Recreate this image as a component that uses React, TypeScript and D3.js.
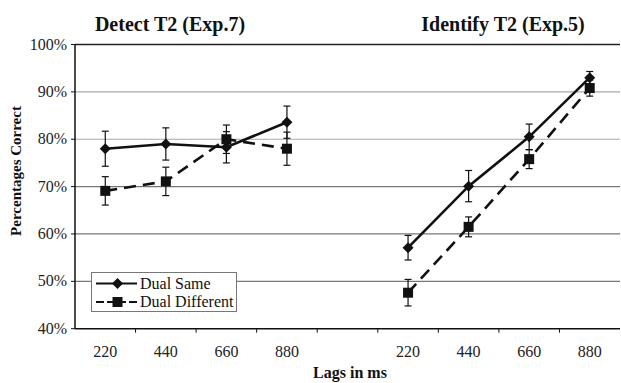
import React from "react";
import * as d3 from "d3";

const lags = ["220", "440", "660", "880"];
const panelTitles = ["Detect T2 (Exp.7)", "Identify T2 (Exp.5)"];
const yTicks = [40, 50, 60, 70, 80, 90, 100];

const detectSame = [78.0, 79.0, 78.3, 83.6];
const detectSameErr = [3.7, 3.4, 3.3, 3.4];
const detectDiff = [69.1, 71.1, 80.0, 78.0];
const detectDiffErr = [3.0, 3.0, 3.0, 3.5];
const identSame = [57.1, 70.1, 80.5, 93.0];
const identSameErr = [2.6, 3.3, 2.7, 1.3];
const identDiff = [47.6, 61.5, 75.8, 90.8];
const identDiffErr = [2.8, 2.1, 2.0, 1.7];

const W = 621;
const H = 383;
const FONT = '"Liberation Serif", "Times New Roman", serif';

const slots = [...lags.map((l) => "a" + l), "gap", ...lags.map((l) => "b" + l)];
const x = d3.scaleBand<string>().domain(slots).range([75, 620]).padding(0);
const y = d3.scaleLinear().domain([40, 100]).range([328.7, 44.5]);

type Series = { prefix: string; vals: number[]; errs: number[]; kind: "same" | "diff" };
const seriesList: Series[] = [
  { prefix: "a", vals: detectSame, errs: detectSameErr, kind: "same" },
  { prefix: "a", vals: detectDiff, errs: detectDiffErr, kind: "diff" },
  { prefix: "b", vals: identSame, errs: identSameErr, kind: "same" },
  { prefix: "b", vals: identDiff, errs: identDiffErr, kind: "diff" },
];

const cx = (k: string) => (x(k) as number) + x.bandwidth() / 2;

const ts = { fontFamily: FONT };

function Marker({ kind, px, py }: { kind: string; px: number; py: number }) {
  if (kind === "same") {
    const r = 5.5;
    return (
      <path
        d={`M${px},${py - r}L${px + r},${py}L${px},${py + r}L${px - r},${py}Z`}
        fill="#111"
      />
    );
  }
  const s = 10;
  return <rect x={px - s / 2} y={py - s / 2} width={s} height={s} fill="#111" />;
}

export default function App() {
  const line = d3
    .line<[number, number]>()
    .x((d) => d[0])
    .y((d) => d[1]);

  const gridColor = (v: number) => (v >= 80 ? "#a8a8a8" : "#777");

  return (
    <svg
      width={W}
      height={H}
      style={{ position: "absolute", left: 0, top: 0, background: "#fff" }}
    >
      {yTicks
        .filter((v) => v > 40 && v < 100)
        .map((v) => (
          <line key={v} x1={75} x2={620} y1={y(v)} y2={y(v)} stroke={gridColor(v)} strokeWidth={1.2} />
        ))}
      <line x1={75} x2={620} y1={y(100)} y2={y(100)} stroke="#222" strokeWidth={1.3} />
      <line x1={75} x2={75} y1={y(100)} y2={y(40)} stroke="#111" strokeWidth={1.5} />
      <line x1={75} x2={620} y1={y(40)} y2={y(40)} stroke="#111" strokeWidth={1.5} />
      {yTicks.map((v) => (
        <g key={v}>
          <line x1={71} x2={75} y1={y(v)} y2={y(v)} stroke="#111" strokeWidth={1} />
          <text x={67} y={y(v) + 5} textAnchor="end" fontSize={16} fill="#222" style={ts}>
            {v}%
          </text>
        </g>
      ))}
      {slots.slice(1).map((k) => (
        <line key={k} x1={x(k) as number} x2={x(k) as number} y1={y(40)} y2={y(40) + 4} stroke="#111" strokeWidth={1} />
      ))}
      {slots
        .filter((k) => k !== "gap")
        .map((k) => (
          <text key={k} x={cx(k)} y={357} textAnchor="middle" fontSize={16} fill="#222" style={ts}>
            {k.slice(1)}
          </text>
        ))}
      {seriesList.map((s, si) => {
        const pts: [number, number][] = s.vals.map((v, i) => [cx(s.prefix + lags[i]), y(v)]);
        return (
          <g key={si}>
            {s.vals.map((v, i) => {
              const px = cx(s.prefix + lags[i]);
              return (
                <g key={i} stroke="#111" strokeWidth={1.2}>
                  <line x1={px} x2={px} y1={y(v + s.errs[i])} y2={y(v - s.errs[i])} />
                  <line x1={px - 3.5} x2={px + 3.5} y1={y(v + s.errs[i])} y2={y(v + s.errs[i])} />
                  <line x1={px - 3.5} x2={px + 3.5} y1={y(v - s.errs[i])} y2={y(v - s.errs[i])} />
                </g>
              );
            })}
            <path
              d={line(pts) as string}
              fill="none"
              stroke="#111"
              strokeWidth={2.6}
              strokeDasharray={s.kind === "diff" ? "12,7" : undefined}
            />
            {pts.map((p, i) => (
              <Marker key={i} kind={s.kind} px={p[0]} py={p[1]} />
            ))}
          </g>
        );
      })}
      <text x={170} y={31} textAnchor="middle" fontSize={20} fontWeight="bold" fill="#111" style={ts}>
        {panelTitles[0]}
      </text>
      <text x={503} y={31} textAnchor="middle" fontSize={20} fontWeight="bold" fill="#111" style={ts}>
        {panelTitles[1]}
      </text>
      <text
        transform={`translate(21,${171}) rotate(-90)`}
        textAnchor="middle"
        fontSize={15}
        fontWeight="bold"
        fill="#111"
        style={ts}
      >
        Percentages Correct
      </text>
      <text x={350} y={378} textAnchor="middle" fontSize={16} fontWeight="bold" fill="#111" style={ts}>
        Lags in ms
      </text>
      <g>
        <rect x={91.5} y={272.5} width={145} height={39} fill="#fff" stroke="#777" strokeWidth={1} />
        <line x1={96} x2={137} y1={283.5} y2={283.5} stroke="#111" strokeWidth={2} />
        <Marker kind="same" px={117.5} py={283.5} />
        <text x={140} y={288.5} fontSize={16} fill="#111" style={ts}>Dual Same</text>
        <line x1={96} x2={137} y1={302} y2={302} stroke="#111" strokeWidth={2} strokeDasharray="8,3" />
        <Marker kind="diff" px={117.5} py={302} />
        <text x={140} y={307} fontSize={16} fill="#111" style={ts}>Dual Different</text>
      </g>
    </svg>
  );
}
